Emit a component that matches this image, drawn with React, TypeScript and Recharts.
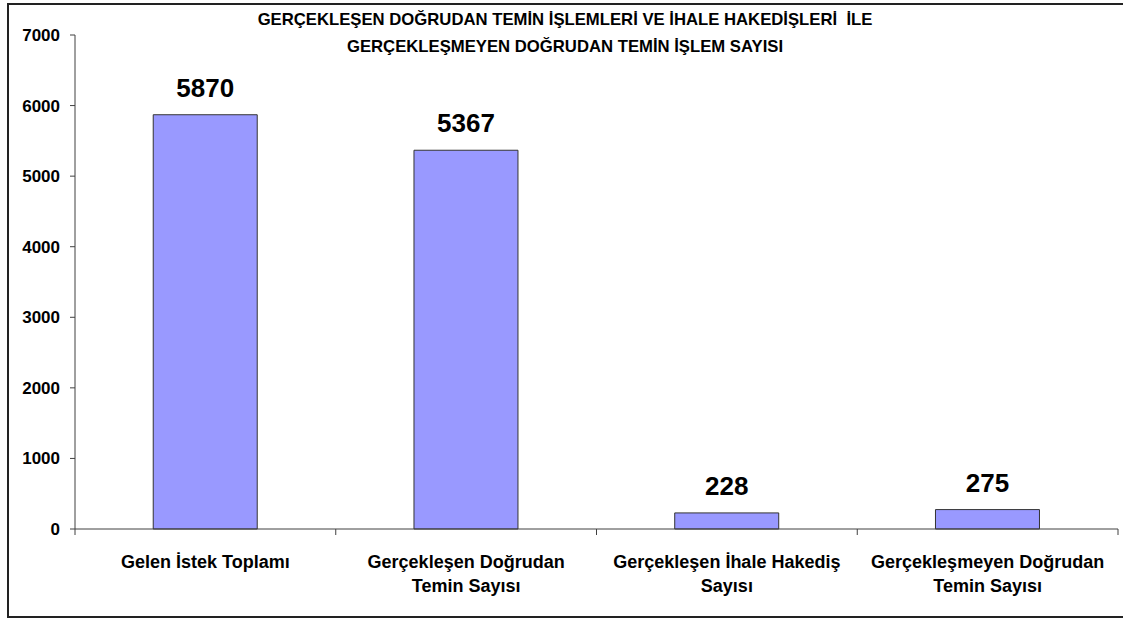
import React from "react";
import { BarChart, Bar, XAxis, YAxis, LabelList } from "recharts";

const TITLE_LINES = [
  "GERÇEKLEŞEN DOĞRUDAN TEMİN İŞLEMLERİ VE İHALE HAKEDİŞLERİ  İLE",
  "GERÇEKLEŞMEYEN DOĞRUDAN TEMİN İŞLEM SAYISI",
];
const CATEGORIES = [
  "Gelen İstek Toplamı",
  "Gerçekleşen Doğrudan\nTemin Sayısı",
  "Gerçekleşen İhale Hakediş\nSayısı",
  "Gerçekleşmeyen Doğrudan\nTemin Sayısı",
];
const VALUES = [5870, 5367, 228, 275];
const Y_TICKS = [0, 1000, 2000, 3000, 4000, 5000, 6000, 7000];

const data = CATEGORIES.map((c, i) => ({ name: c, value: VALUES[i] }));

const W = 1123;
const H = 623;
const MARGIN = { top: 35, right: 5, bottom: 34, left: 0 };
const Y_AXIS_W = 75;
const PLOT_W = W - MARGIN.left - MARGIN.right - Y_AXIS_W;
const BAND = PLOT_W / CATEGORIES.length;
const AXIS_COLOR = "#404040";
const FONT = "'Liberation Sans', Arial, sans-serif";

const XTick = (props: any) => {
  const { x, y, payload, index } = props;
  const lines = String(payload.value).split("\n");
  const left = x - BAND / 2;
  const right = x + BAND / 2;
  return (
    <g>
      <line x1={left} y1={y} x2={left} y2={y + 6} stroke={AXIS_COLOR} strokeWidth={1} />
      {index === CATEGORIES.length - 1 && (
        <line x1={right} y1={y} x2={right} y2={y + 6} stroke={AXIS_COLOR} strokeWidth={1} />
      )}
      {lines.map((l, i) => (
        <text
          key={i}
          x={x}
          y={y + 39 + i * 24}
          textAnchor="middle"
          fontFamily={FONT}
          fontWeight="bold"
          fontSize={18}
          fill="#000"
        >
          {l}
        </text>
      ))}
    </g>
  );
};

export default function App() {
  return (
    <div
      style={{
        position: "absolute",
        left: 0,
        top: 0,
        width: W,
        height: H,
        background: "#fff",
        overflow: "hidden",
        fontFamily: FONT,
      }}
    >
      <div
        style={{
          position: "absolute",
          left: 7,
          top: 3,
          width: 1140,
          height: 615,
          border: "2px solid #222",
          boxSizing: "border-box",
        }}
      />
      <div
        style={{
          position: "absolute",
          left: 0,
          top: 6,
          width: 1130,
          textAlign: "center",
          fontWeight: "bold",
          fontSize: 16.7,
          lineHeight: "27px",
          whiteSpace: "pre",
          color: "#000",
        }}
      >
        {TITLE_LINES.map((t, i) => (
          <div key={i}>{t}</div>
        ))}
      </div>
      <div style={{ position: "absolute", left: 0, top: 0 }}>
        <BarChart width={W} height={H} data={data} margin={MARGIN} barCategoryGap="30%">
          <XAxis
            dataKey="name"
            height={60}
            axisLine={{ stroke: AXIS_COLOR, strokeWidth: 1 }}
            tickLine={false}
            tickSize={0}
            tickMargin={0}
            interval={0}
            tick={<XTick />}
          />
          <YAxis
            width={Y_AXIS_W}
            domain={[0, 7000]}
            ticks={Y_TICKS}
            interval={0}
            axisLine={{ stroke: AXIS_COLOR, strokeWidth: 1 }}
            tickLine={{ stroke: AXIS_COLOR, strokeWidth: 1 }}
            tickSize={5}
            tickMargin={10}
            tick={{ fontFamily: FONT, fontWeight: "bold", fontSize: 17, fill: "#000" }}
          />
          <Bar
            dataKey="value"
            fill="#9999FF"
            stroke="#333"
            strokeWidth={1}
            isAnimationActive={false}
          >
            <LabelList
              dataKey="value"
              position="top"
              offset={18}
              fontFamily={FONT}
              fontWeight="bold"
              fontSize={26}
              fill="#000"
            />
          </Bar>
        </BarChart>
      </div>
    </div>
  );
}
